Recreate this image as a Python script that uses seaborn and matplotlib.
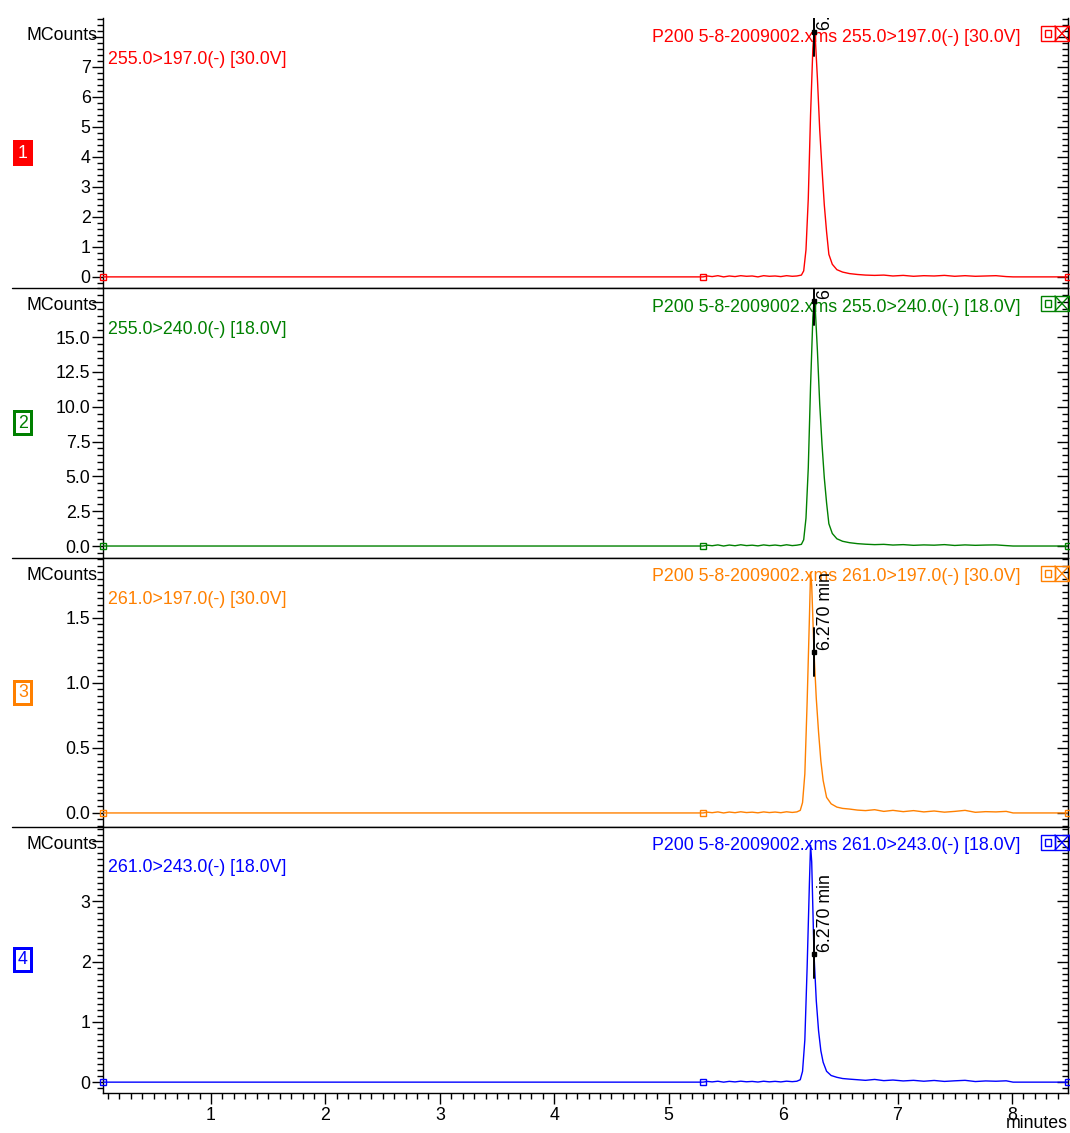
import matplotlib
matplotlib.use("Agg")
import matplotlib.pyplot as plt
import pandas as pd
import seaborn as sns
from matplotlib.patches import Rectangle
from matplotlib.lines import Line2D
from matplotlib.ticker import FixedLocator, MultipleLocator, FuncFormatter
from matplotlib.transforms import offset_copy

sns.set_style("white")
plt.rcParams["font.family"] = ["Liberation Sans", "DejaVu Sans"]

# ---------------- data ----------------
file_name = "P200 5-8-2009002.xms"
channels = ["255.0>197.0(-) [30.0V]", "255.0>240.0(-) [18.0V]",
            "261.0>197.0(-) [30.0V]", "261.0>243.0(-) [18.0V]"]
panel_ids = ["1", "2", "3", "4"]

t1 = [0.056, 5.30, 5.34, 5.38, 5.43, 5.48, 5.53, 5.58, 5.63, 5.68, 5.73, 5.78, 5.83, 5.88,
      5.93, 5.98, 6.03, 6.08, 6.12, 6.16, 6.18, 6.20, 6.22, 6.24, 6.26, 6.27, 6.28, 6.30,
      6.32, 6.34, 6.36, 6.38, 6.40, 6.43, 6.47, 6.52, 6.58, 6.65, 6.72, 6.80, 6.88, 6.96,
      7.05, 7.14, 7.23, 7.32, 7.41, 7.50, 7.59, 7.68, 7.77, 7.86, 7.95, 8.01, 8.49]
i1 = [0.0, 0.0, 0.03, 0.01, 0.04, 0.0, 0.03, 0.01, 0.04, 0.02, 0.03, 0.0, 0.04, 0.02,
      0.03, 0.01, 0.04, 0.02, 0.03, 0.06, 0.2, 0.9, 2.6, 5.4, 7.6, 8.15, 8.05, 6.6,
      4.9, 3.6, 2.4, 1.5, 0.75, 0.42, 0.24, 0.16, 0.11, 0.08, 0.06, 0.05, 0.06, 0.03,
      0.05, 0.02, 0.04, 0.03, 0.05, 0.02, 0.04, 0.02, 0.03, 0.04, 0.01, 0.0, 0.0]
t2 = t1
i2 = [0.0, 0.0, 0.06, 0.02, 0.08, 0.0, 0.07, 0.02, 0.09, 0.03, 0.06, 0.01, 0.08, 0.03,
      0.07, 0.02, 0.09, 0.03, 0.06, 0.12, 0.45, 2.0, 5.6, 11.5, 16.4, 17.6, 17.2, 14.0,
      10.2, 7.3, 4.9, 3.1, 1.6, 0.9, 0.52, 0.34, 0.24, 0.17, 0.13, 0.1, 0.12, 0.07,
      0.1, 0.05, 0.08, 0.06, 0.1, 0.04, 0.08, 0.05, 0.07, 0.08, 0.03, 0.0, 0.0]
t3 = [0.056, 5.30, 5.34, 5.38, 5.43, 5.48, 5.53, 5.58, 5.63, 5.68, 5.73, 5.78, 5.83, 5.88,
      5.93, 5.98, 6.03, 6.08, 6.12, 6.15, 6.17, 6.19, 6.21, 6.23, 6.24, 6.25, 6.27, 6.29,
      6.31, 6.33, 6.35, 6.38, 6.42, 6.47, 6.52, 6.58, 6.65, 6.72, 6.80, 6.88, 6.96, 7.05,
      7.14, 7.23, 7.32, 7.41, 7.50, 7.59, 7.68, 7.77, 7.86, 7.95, 8.01, 8.49]
i3 = [0.0, 0.0, 0.006, 0.002, 0.008, 0.0, 0.007, 0.002, 0.009, 0.003, 0.006, 0.001, 0.008, 0.003,
      0.007, 0.002, 0.009, 0.004, 0.008, 0.02, 0.08, 0.3, 0.85, 1.5, 1.85, 1.75, 1.24, 0.88,
      0.62, 0.4, 0.25, 0.12, 0.07, 0.045, 0.035, 0.03, 0.022, 0.018, 0.025, 0.012, 0.02, 0.01,
      0.018, 0.008, 0.015, 0.006, 0.012, 0.02, 0.005, 0.01, 0.008, 0.012, 0.0, 0.0]
t4 = t3
i4 = [0.0, 0.0, 0.012, 0.004, 0.015, 0.0, 0.013, 0.004, 0.016, 0.006, 0.012, 0.002, 0.015, 0.005,
      0.013, 0.004, 0.016, 0.008, 0.015, 0.04, 0.18, 0.7, 1.9, 3.3, 3.93, 3.65, 2.12, 1.35,
      0.85, 0.52, 0.33, 0.18, 0.11, 0.08, 0.06, 0.05, 0.04, 0.03, 0.045, 0.025, 0.035, 0.02,
      0.03, 0.015, 0.028, 0.012, 0.022, 0.03, 0.01, 0.02, 0.015, 0.022, 0.0, 0.0]

times = [t1, t2, t3, t4]
counts = [i1, i2, i3, i4]

peak_rt = 6.270
peak_label = "6.270 min"
peak_heights = [8.15, 17.6, 1.24, 2.12]

y_limits = [(-0.37, 8.62), (-0.86, 18.52), (-0.108, 1.96), (-0.18, 4.23)]
y_major = [[0, 1, 2, 3, 4, 5, 6, 7, 8],
           [0.0, 2.5, 5.0, 7.5, 10.0, 12.5, 15.0, 17.5],
           [0.0, 0.5, 1.0, 1.5],
           [0, 1, 2, 3, 4]]
y_hidden = [8, 17.5, None, 4]
y_fmt = ["{:.0f}", "{:.1f}", "{:.1f}", "{:.0f}"]
y_minor = [0.2, 0.5, 0.05, 0.1]
x_limits = (0.056, 8.49)

# ---------------- style ----------------
colors = ["#FF0000", "#008000", "#FF8000", "#0000FF"]
W, H = 1070, 1133
FS = 12.8
tops = [18, 288, 558, 827]
bottoms = [288, 558, 827, 1093]
AX_L, AX_R = 103, 1068


def fx(px):
    return px / W


def fy(py):
    return 1 - py / H


fig = plt.figure(figsize=(W / 100, H / 100), dpi=100)

for k in range(4):
    c = colors[k]
    ax = fig.add_axes([fx(AX_L), fy(bottoms[k]), (AX_R - AX_L) / W,
                       (bottoms[k] - tops[k]) / H])
    df = pd.DataFrame({"minutes": times[k], "MCounts": counts[k]})
    sns.lineplot(data=df, x="minutes", y="MCounts", ax=ax, color=c, lw=1.0,
                 estimator=None, sort=False, zorder=3)
    mk = df.iloc[[0, 1, len(df) - 1]]
    ax.plot(mk["minutes"], mk["MCounts"], ls="none", marker="s", ms=5,
            mfc="none", mec=c, mew=1.0, zorder=3, clip_on=False)

    ax.set_xlim(*x_limits)
    ax.set_ylim(*y_limits[k])
    ax.set_xlabel("")
    ax.set_ylabel("")
    for s in ["left", "right", "bottom"]:
        ax.spines[s].set_color("black")
        ax.spines[s].set_linewidth(1.0)
    ax.spines["top"].set_visible(False)

    hid = y_hidden[k]
    fmt = y_fmt[k]
    ax.yaxis.set_major_locator(FixedLocator(y_major[k]))
    ax.yaxis.set_minor_locator(MultipleLocator(y_minor[k]))
    ax.yaxis.set_major_formatter(FuncFormatter(
        lambda v, p, hid=hid, fmt=fmt: "" if (hid is not None and abs(v - hid) < 1e-9) else fmt.format(v)))
    ax.tick_params(axis="y", which="major", direction="out", length=8, width=1,
                   labelsize=FS, pad=1, colors="black", left=True)
    ax.tick_params(axis="y", which="minor", direction="out", length=4, width=1,
                   colors="black", left=True)

    sec = ax.secondary_yaxis("right")
    sec.yaxis.set_major_locator(FixedLocator(y_major[k]))
    sec.yaxis.set_minor_locator(MultipleLocator(y_minor[k]))
    sec.tick_params(axis="y", which="major", direction="in", length=8, width=1,
                    labelright=False, colors="black")
    sec.tick_params(axis="y", which="minor", direction="in", length=4, width=1,
                    labelright=False, colors="black")
    sec.spines["right"].set_color("black")

    if k < 3:
        ax.tick_params(axis="x", which="both", bottom=False, labelbottom=False)
    else:
        ax.xaxis.set_major_locator(MultipleLocator(1))
        ax.xaxis.set_minor_locator(MultipleLocator(0.1))
        ax.xaxis.set_major_formatter(FuncFormatter(lambda v, p: f"{v:.0f}"))
        ax.tick_params(axis="x", which="major", direction="out", length=8, width=1,
                       labelsize=FS, pad=2, colors="black", bottom=True)
        ax.tick_params(axis="x", which="minor", direction="out", length=4, width=1,
                       colors="black", bottom=True)

    # retention-time marker
    ax_h_px = bottoms[k] - tops[k]
    ppu = ax_h_px / (y_limits[k][1] - y_limits[k][0])
    hv = peak_heights[k]
    ax.plot([peak_rt, peak_rt], [hv - 24 / ppu, hv + 24 / ppu], color="black",
            lw=1.4, zorder=4)
    ax.plot([peak_rt], [hv], marker="s", ms=3.5, color="black", zorder=5)
    ax.text(peak_rt, hv, peak_label, rotation=90, ha="left", va="bottom",
            fontsize=FS, color="black", clip_on=True, zorder=5,
            transform=offset_copy(ax.transData, fig=fig, x=3, y=2, units="dots"))

    # texts
    ax.text(fx(97), fy(tops[k] + 17.5), "MCounts", transform=fig.transFigure,
            ha="right", va="center", fontsize=FS, color="black", clip_on=False)
    ax.text(fx(108), fy(tops[k] + 41), channels[k], transform=fig.transFigure,
            ha="left", va="center", fontsize=FS, color=c, clip_on=False, zorder=1)
    ax.text(fx(1020), fy(tops[k] + 19), f"{file_name} {channels[k]}",
            transform=fig.transFigure, ha="right", va="center", fontsize=FS,
            color=c, clip_on=False, zorder=1)

    # icons at top right
    yt = tops[k] + 8
    fig.patches.append(Rectangle((fx(1041), fy(yt + 15)), 14 / W, 15 / H, fill=False,
                                 ec=c, lw=1.0, transform=fig.transFigure))
    fig.patches.append(Rectangle((fx(1045), fy(yt + 11)), 6 / W, 7 / H, fill=False,
                                 ec=c, lw=1.0, transform=fig.transFigure))
    fig.patches.append(Rectangle((fx(1055), fy(yt + 15)), 14 / W, 15 / H, fill=False,
                                 ec=c, lw=1.0, transform=fig.transFigure))
    fig.lines.append(Line2D([fx(1055), fx(1069)], [fy(yt), fy(yt + 15)], color=c,
                            lw=1.0, transform=fig.transFigure))
    fig.lines.append(Line2D([fx(1055), fx(1069)], [fy(yt + 15), fy(yt)], color=c,
                            lw=1.0, transform=fig.transFigure))

    # numbered box at left
    ymid = (tops[k] + bottoms[k]) / 2
    fig.patches.append(Rectangle((fx(13), fy(ymid + 13)), 20 / W, 26 / H,
                                 fc=c, ec=c, lw=0, transform=fig.transFigure))
    if k == 0:
        tc = "white"
    else:
        fig.patches.append(Rectangle((fx(16), fy(ymid + 10)), 14 / W, 20 / H,
                                     fc="white", ec="none", lw=0,
                                     transform=fig.transFigure))
        tc = c
    fig.text(fx(23), fy(ymid), panel_ids[k], ha="center", va="center",
             fontsize=FS, color=tc)

# separator lines between panels, extending to the left edge
for k in range(3):
    fig.lines.append(Line2D([fx(12), fx(AX_R)], [fy(bottoms[k]), fy(bottoms[k])],
                            color="black", lw=1.0, transform=fig.transFigure))

fig.text(fx(1037), fy(1124), "minutes", ha="center", va="center", fontsize=FS,
         color="black")

fig.savefig("out.png", dpi=100, facecolor="white")
